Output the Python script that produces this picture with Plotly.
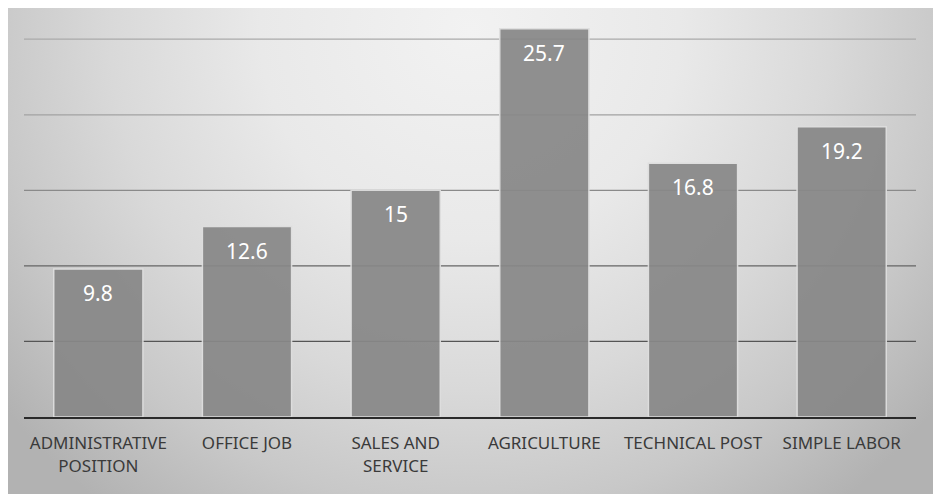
import plotly.graph_objects as go

categories = ["ADMINISTRATIVE<br>POSITION", "OFFICE JOB", "SALES AND<br>SERVICE",
              "AGRICULTURE", "TECHNICAL POST", "SIMPLE LABOR"]
values = [9.8, 12.6, 15, 25.7, 16.8, 19.2]
value_labels = ["9.8", "12.6", "15", "25.7", "16.8", "19.2"]
grid_values = [5, 10, 15, 20, 25]
grid_colors = ["#555555", "#646464", "#8a8a8a", "#a2a2a2", "#aaaaaa"]

# page body adds an 8px margin, so the figure is drawn 8px smaller and offset
OFF = 8
W, H = 943 - OFF, 501 - OFF
FONT = "Noto Sans"


def fx(px):  # target pixel x -> paper fraction
    return (px - OFF) / W


def fy(py):  # target pixel y -> paper fraction (from bottom)
    return (H - (py - OFF)) / H


fig = go.Figure()

# background gradient panel (pixel-unit axes, clipped to the panel)
cx, cy, R = 470, 30, 600
fig.add_trace(go.Scatter(
    x=[cx - R, cx + R, cx + R, cx - R, cx - R],
    y=[cy - R, cy - R, cy + R, cy + R, cy - R],
    mode="lines", line=dict(width=0), fill="toself",
    fillgradient=dict(type="radial",
                      colorscale=[[0, "#f2f2f2"], [0.35, "#e9e9e9"], [0.6, "#d9d9d9"],
                                  [0.8, "#c8c8c8"], [1, "#b2b2b2"]]),
    hoverinfo="skip", showlegend=False, xaxis="x", yaxis="y"))

# gridlines, one trace per level, below the bars
for v, c in zip(grid_values, grid_colors):
    fig.add_trace(go.Scatter(
        x=[0, 1], y=[v, v], mode="lines", line=dict(color=c, width=1.3),
        hoverinfo="skip", showlegend=False, xaxis="x2", yaxis="y2"))

fig.add_trace(go.Bar(
    x=categories, y=values, xaxis="x3", yaxis="y2",
    marker=dict(color="#888888", opacity=0.93, line=dict(color="#dedede", width=1.5)),
    showlegend=False, hoverinfo="skip"))

for cat, v, lab in zip(categories, values, value_labels):
    fig.add_annotation(x=cat, y=v, xref="x3", yref="y2", text=lab, showarrow=False,
                       yanchor="top", yshift=-8,
                       font=dict(family=FONT, size=21, color="white"))

fig.update_layout(
    width=W, height=H,
    margin=dict(l=0, r=0, t=0, b=0),
    paper_bgcolor="white", plot_bgcolor="rgba(0,0,0,0)",
    bargap=0.40,
    xaxis=dict(domain=[0, fx(933)], range=[OFF, 933], visible=False, fixedrange=True),
    yaxis=dict(domain=[fy(494), 1], range=[494, OFF], visible=False, fixedrange=True),
    xaxis2=dict(domain=[fx(24), fx(916)], anchor="y2", range=[0, 1], visible=False),
    yaxis2=dict(domain=[fy(417), fy(9)], anchor="x2", range=[0, 27],
                showgrid=False, zeroline=False, showticklabels=False),
    xaxis3=dict(overlaying="x2", anchor="y2", showgrid=False,
                showline=True, linecolor="#2a2a2a", linewidth=2,
                ticks="outside", ticklen=10, tickcolor="rgba(0,0,0,0)",
                tickfont=dict(family=FONT, size=17, color="#3a3a3a")),
)

fig.write_html("out.html")
